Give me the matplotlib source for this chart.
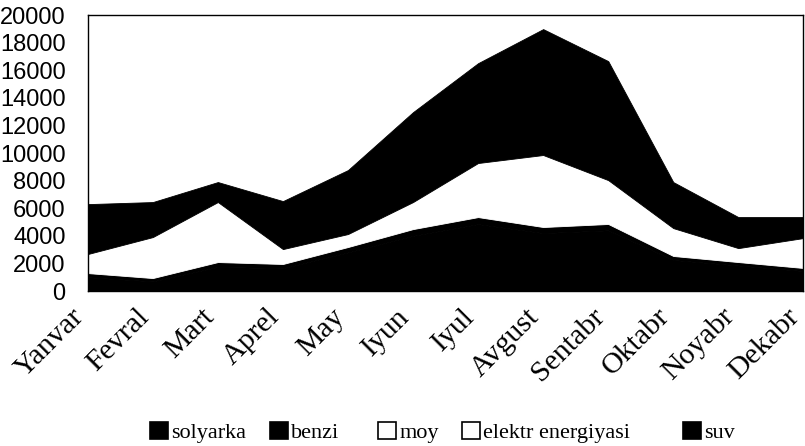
import numpy as np
import matplotlib.pyplot as plt
import matplotlib.transforms as mtransforms
from matplotlib.patches import Patch

# Oylar bo'yicha sarf (stacked area)
oylar = ['Yanvar', 'Fevral', 'Mart', 'Aprel', 'May', 'Iyun', 'Iyul',
         'Avgust', 'Sentabr', 'Oktabr', 'Noyabr', 'Dekabr']

solyarka = [1000, 700, 1750, 1650, 2800, 4000, 4850, 4200, 4400, 2250, 1850, 1450]
benzi = [300, 240, 350, 310, 390, 490, 510, 440, 460, 290, 250, 220]
moy = [150, 120, 200, 130, 150, 250, 300, 320, 280, 170, 110, 130]
elektr = [1230, 2850, 4150, 950, 790, 1710, 3620, 4900, 2900, 1850, 900, 2040]
suv = [3620, 2540, 1450, 3480, 4640, 6520, 7240, 9130, 8630, 3340, 2250, 1520]

seriyalar = [solyarka, benzi, moy, elektr, suv]
nomlar = ['solyarka', 'benzi', 'moy', 'elektr energiyasi', 'suv']
ranglar = ['black', 'black', 'white', 'white', 'black']

fig = plt.figure(figsize=(8.05, 4.46), dpi=100)
ax = fig.add_axes([0.109, 0.3475, 0.889, 0.6185])

x = np.arange(len(oylar))
# chegaradagi oq chiziqlar ko'rinmasligi uchun qatlam rangi bilan chegara
polys = ax.stackplot(x, *seriyalar, colors=ranglar)
for p, c in zip(polys, ranglar):
    p.set_edgecolor(c)
    p.set_linewidth(0.6)

ax.set_xlim(0, len(oylar) - 1)
ax.set_ylim(0, 20000)
ax.set_yticks(range(0, 20001, 2000))
ax.tick_params(axis='y', length=0, pad=16)
ax.tick_params(axis='x', length=0, pad=9)
for lbl in ax.get_yticklabels():
    lbl.set_family('Liberation Sans')
    lbl.set_fontsize(17)

ax.set_xticks(x)
ax.set_xticklabels(oylar, rotation=45, ha='right', va='top',
                   rotation_mode='anchor', family='Liberation Serif',
                   fontsize=21.5)
siljish = mtransforms.ScaledTranslation(-17 / 100, 0, fig.dpi_scale_trans)
for lbl in ax.get_xticklabels():
    lbl.set_transform(lbl.get_transform() + siljish)

for s in ax.spines.values():
    s.set_linewidth(1.0)
    s.set_color('black')

# legenda elementlari alohida joylashtiriladi
leg_x = [150, 270, 378, 462, 683]
for nom, c, lx in zip(nomlar, ranglar, leg_x):
    h = Patch(facecolor=c, edgecolor='black', linewidth=1.2)
    fig.legend([h], [nom], loc='center left', bbox_to_anchor=(lx / 805, 0.031),
               frameon=False, prop={'family': 'Liberation Serif', 'size': 16},
               handlelength=0.8, handleheight=0.8, handletextpad=0.15,
               borderpad=0, borderaxespad=0)

fig.savefig('out.png', dpi=100)
